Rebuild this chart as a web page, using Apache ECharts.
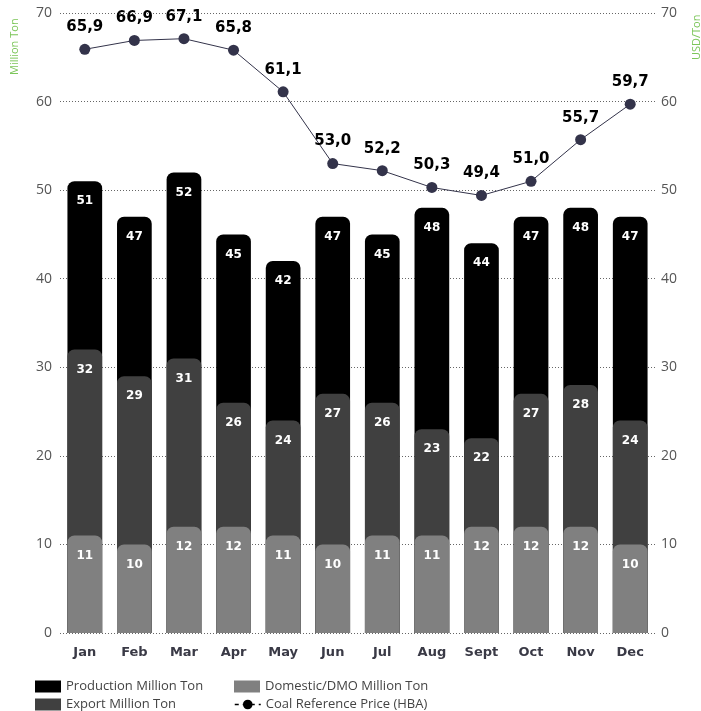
<!DOCTYPE html>
<html>
<head>
<meta charset="utf-8">
<script src="https://cdn.jsdelivr.net/npm/echarts@6/dist/echarts.min.js"></script>
<style>
  html, body { margin: 0; padding: 0; background: #fff; }
  #chart { width: 701px; height: 711px; }
</style>
</head>
<body>
<div id="chart"></div>
<script>
// Monthly coal volumes (million tons) and the coal reference price (USD/ton)
const months = ['Jan', 'Feb', 'Mar', 'Apr', 'May', 'Jun', 'Jul', 'Aug', 'Sept', 'Oct', 'Nov', 'Dec'];
const production = [51, 47, 52, 45, 42, 47, 45, 48, 44, 47, 48, 47];
const exportVol = [32, 29, 31, 26, 24, 27, 26, 23, 22, 27, 28, 24];
const domestic = [11, 10, 12, 12, 11, 10, 11, 11, 12, 12, 12, 10];
const hba = [65.9, 66.9, 67.1, 65.8, 61.1, 53.0, 52.2, 50.3, 49.4, 51.0, 55.7, 59.7];

const LIGHT = 'Open Sans';
const BOLD = 'DejaVu Sans';
const chart = echarts.init(document.getElementById('chart'), null, { renderer: 'canvas' });

const barLabel = {
  show: true,
  position: 'insideTop',
  distance: 14,
  color: '#fff',
  fontFamily: BOLD,
  fontWeight: 'bold',
  fontSize: 12
};

function barSeries(name, data, color) {
  return {
    name: name,
    type: 'bar',
    data: data,
    barWidth: '70%',
    barGap: '-100%',
    itemStyle: { color: color, borderRadius: [7, 7, 0, 0] },
    label: barLabel,
    emphasis: { disabled: true }
  };
}

const yAxisCommon = {
  type: 'value',
  min: 0,
  max: 70,
  interval: 10,
  axisLine: { show: false },
  axisTick: { show: false },
  axisLabel: { color: '#555', fontFamily: LIGHT, fontSize: 14 }
};

const legendText = { color: '#444', fontFamily: LIGHT, fontSize: 13 };
function legendAt(left, top, item) {
  return {
    left: left, top: top, padding: 0, itemWidth: 26, itemHeight: 12, itemGap: 0,
    textStyle: legendText, data: [item]
  };
}

chart.setOption({
  animation: false,
  textStyle: { fontFamily: LIGHT },
  grid: { left: 60, right: 46, top: 13, bottom: 78 },
  xAxis: {
    type: 'category',
    data: months,
    axisLine: { show: false },
    axisTick: { show: false },
    axisLabel: { color: '#3a3a46', fontFamily: BOLD, fontWeight: 'bold', fontSize: 13, margin: 13 }
  },
  yAxis: [
    Object.assign({}, yAxisCommon, {
      position: 'left',
      splitLine: { show: true, lineStyle: { color: '#666', type: [1, 2], width: 1 } },
      axisLabel: Object.assign({}, yAxisCommon.axisLabel, { margin: 8 })
    }),
    Object.assign({}, yAxisCommon, {
      position: 'right',
      splitLine: { show: false },
      axisLabel: Object.assign({}, yAxisCommon.axisLabel, { margin: 6 })
    })
  ],
  graphic: [
    {
      type: 'text',
      rotation: Math.PI / 2,
      x: 9, y: 75,
      style: { text: 'Million Ton', fill: '#7cc65a', font: '11px "' + LIGHT + '"' }
    },
    {
      type: 'text',
      rotation: Math.PI / 2,
      x: 691, y: 60,
      style: { text: 'USD/Ton', fill: '#7cc65a', font: '11px "' + LIGHT + '"' }
    }
  ],
  legend: [
    legendAt(35, 680, { name: 'Production Million Ton', icon: 'rect' }),
    legendAt(35, 698, { name: 'Export Million Ton', icon: 'rect' }),
    legendAt(234, 680, { name: 'Domestic/DMO Million Ton', icon: 'rect' }),
    legendAt(234, 698, { name: 'Coal Reference Price (HBA)', lineStyle: { color: '#000', type: [4, 4], width: 1.5 }, itemStyle: { color: '#000' } })
  ],
  series: [
    barSeries('Production Million Ton', production, '#000000'),
    barSeries('Export Million Ton', exportVol, '#404040'),
    barSeries('Domestic/DMO Million Ton', domestic, '#808080'),
    {
      name: 'Coal Reference Price (HBA)',
      type: 'line',
      yAxisIndex: 1,
      data: hba,
      symbol: 'circle',
      symbolSize: 11,
      itemStyle: { color: '#33334a' },
      lineStyle: { color: '#33334a', width: 1 },
      label: {
        show: true,
        position: 'top',
        distance: 9,
        color: '#000',
        fontFamily: BOLD,
        fontWeight: 'bold',
        fontSize: 15,
        formatter: p => p.value.toFixed(1).replace('.', ',')
      },
      emphasis: { disabled: true },
      z: 5
    }
  ]
});
</script>
</body>
</html>
